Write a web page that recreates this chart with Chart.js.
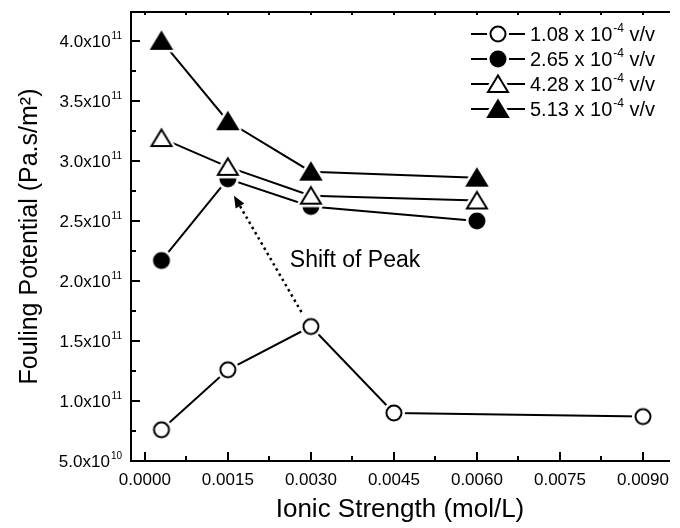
<!DOCTYPE html>
<html>
<head>
<meta charset="utf-8">
<script src="https://cdn.jsdelivr.net/npm/chart.js@4.4.1/dist/chart.umd.min.js"></script>
<style>
  html, body { margin: 0; padding: 0; background: #fff; }
  #wrap { width: 680px; height: 528px; }
</style>
</head>
<body>
<div id="wrap"><canvas id="chart" width="680" height="528"></canvas></div>
<script>
// ionic strength (mol/L) and fouling potential (Pa.s/m2) per particle dose
const xLow = [0.0003, 0.0015, 0.0030, 0.0045, 0.0090];
const xHigh = [0.0003, 0.0015, 0.0030, 0.0060];
const fp108 = [7.6e10, 1.26e11, 1.62e11, 9.0e10, 8.7e10];
const fp265 = [2.17e11, 2.85e11, 2.62e11, 2.50e11];
const fp428 = [3.19e11, 2.95e11, 2.71e11, 2.67e11];
const fp513 = [4.00e11, 3.33e11, 2.91e11, 2.86e11];
const doses = ["1.08", "2.65", "4.28", "5.13"];
const xTicks = [0, 0.0015, 0.003, 0.0045, 0.006, 0.0075, 0.009];
const yTicks = [5e10, 1e11, 1.5e11, 2e11, 2.5e11, 3e11, 3.5e11, 4e11];
const arrowFrom = [0.00283, 1.74e11];
const arrowTo = [0.00161, 2.71e11];
const notePos = [0.00262, 2.17e11];

const FONT = "Arial, 'Liberation Sans', sans-serif";
const INK = "#000";

// marker sprites with a white halo so lines stop short of the symbol
function makeMarker(shape, filled) {
  const c = document.createElement("canvas");
  c.width = c.height = 32;
  const g = c.getContext("2d");
  const m = 16;
  const path = () => {
    g.beginPath();
    if (shape === "circle") g.arc(m, m, 7.5, 0, Math.PI * 2);
    else { g.moveTo(m, m - 8.5); g.lineTo(m + 10, m + 8); g.lineTo(m - 10, m + 8); g.closePath(); }
  };
  g.lineJoin = "round";
  path(); g.strokeStyle = "#fff"; g.lineWidth = 7; g.stroke();
  path(); g.fillStyle = filled ? INK : "#fff"; g.fill();
  g.lineJoin = "miter"; g.strokeStyle = INK; g.lineWidth = 2; g.stroke();
  return c;
}
const markers = [
  makeMarker("circle", false), makeMarker("circle", true),
  makeMarker("triangle", false), makeMarker("triangle", true)
];

function pts(xs, ys) { return xs.map((x, i) => ({ x, y: ys[i] })); }

function drawSup(ctx, x, y, base, sup, tail, size) {
  ctx.textAlign = "left";
  ctx.textBaseline = "alphabetic";
  ctx.font = size + "px " + FONT;
  ctx.fillText(base, x, y);
  x += ctx.measureText(base).width + 1;
  const s = Math.round(size * 0.6);
  ctx.font = s + "px " + FONT;
  ctx.fillText(sup, x, y - size * 0.45);
  x += ctx.measureText(sup).width;
  ctx.font = size + "px " + FONT;
  ctx.fillText(tail, x, y);
  return x + ctx.measureText(tail).width;
}
function supWidth(ctx, base, sup, tail, size) {
  ctx.font = size + "px " + FONT;
  let w = ctx.measureText(base).width + ctx.measureText(tail).width + 1;
  ctx.font = Math.round(size * 0.6) + "px " + FONT;
  return w + ctx.measureText(sup).width;
}

// axis frame with inward major/minor ticks (left, bottom, top)
const frame = {
  id: "frame",
  afterDatasetsDraw(chart) {
    const { ctx, chartArea: a, scales: { x, y } } = chart;
    ctx.save();
    ctx.strokeStyle = INK;
    ctx.lineWidth = 2;
    ctx.lineCap = "square";
    ctx.beginPath();
    ctx.moveTo(a.right, a.top); ctx.lineTo(a.left, a.top);
    ctx.lineTo(a.left, a.bottom); ctx.lineTo(a.right, a.bottom);
    ctx.stroke();
    ctx.lineCap = "butt";
    ctx.beginPath();
    xTicks.forEach(v => {
      const px = Math.round(x.getPixelForValue(v));
      ctx.moveTo(px, a.bottom); ctx.lineTo(px, a.bottom - 9);
      ctx.moveTo(px, a.top); ctx.lineTo(px, a.top + 3);
      const mid = Math.round(x.getPixelForValue(v + 0.00075));
      if (mid < a.right) {
        ctx.moveTo(mid, a.bottom); ctx.lineTo(mid, a.bottom - 5);
        ctx.moveTo(mid, a.top); ctx.lineTo(mid, a.top + 3);
      }
    });
    yTicks.forEach(v => {
      const py = Math.round(y.getPixelForValue(v));
      ctx.moveTo(a.left, py); ctx.lineTo(a.left + 9, py);
      const mid = Math.round(y.getPixelForValue(v + 2.5e10));
      if (mid > a.top) { ctx.moveTo(a.left, mid); ctx.lineTo(a.left + 5, mid); }
    });
    ctx.stroke();

    // dotted arrow marking the shift of the peak
    const x0 = x.getPixelForValue(arrowFrom[0]), y0 = y.getPixelForValue(arrowFrom[1]);
    const x1 = x.getPixelForValue(arrowTo[0]), y1 = y.getPixelForValue(arrowTo[1]);
    const ang = Math.atan2(y1 - y0, x1 - x0);
    const head = 12;
    ctx.setLineDash([2.5, 3.5]);
    ctx.lineWidth = 2.5;
    ctx.beginPath();
    ctx.moveTo(x0, y0);
    ctx.lineTo(x1 - Math.cos(ang) * head, y1 - Math.sin(ang) * head);
    ctx.stroke();
    ctx.setLineDash([]);
    ctx.fillStyle = INK;
    ctx.beginPath();
    ctx.moveTo(x1, y1);
    ctx.lineTo(x1 - Math.cos(ang) * head + Math.sin(ang) * 5, y1 - Math.sin(ang) * head - Math.cos(ang) * 5);
    ctx.lineTo(x1 - Math.cos(ang) * head - Math.sin(ang) * 5, y1 - Math.sin(ang) * head + Math.cos(ang) * 5);
    ctx.closePath();
    ctx.fill();

    ctx.font = "23px " + FONT;
    ctx.textAlign = "left";
    ctx.textBaseline = "middle";
    ctx.fillText("Shift of Peak", x.getPixelForValue(notePos[0]), y.getPixelForValue(notePos[1]));
    ctx.restore();
  },
  afterDraw(chart) {
    const { ctx, chartArea: a, scales: { y } } = chart;
    ctx.save();
    ctx.fillStyle = INK;
    // y tick labels written as m.m x 10^e
    yTicks.forEach(v => {
      const e = Math.floor(Math.log10(v) + 1e-9);
      const base = (v / Math.pow(10, e)).toFixed(1) + "x10";
      const w = supWidth(ctx, base, String(e), "", 17);
      drawSup(ctx, a.left - 9 - w, y.getPixelForValue(v) + 6, base, String(e), "", 17);
    });

    // legend
    const rows = [34, 59, 84, 109];
    rows.forEach((ry, i) => {
      ctx.strokeStyle = INK;
      ctx.lineWidth = 2;
      ctx.beginPath();
      ctx.moveTo(471, ry); ctx.lineTo(525, ry);
      ctx.stroke();
      ctx.drawImage(markers[i], 498 - 16, ry - 16);
      drawSup(ctx, 530, ry + 7, doses[i] + " x 10", "-4", " v/v", 20);
    });
    ctx.restore();
  }
};

new Chart(document.getElementById("chart"), {
  type: "line",
  data: {
    datasets: [
      { label: doses[0], data: pts(xLow, fp108), pointStyle: markers[0], order: 0 },
      { label: doses[1], data: pts(xHigh, fp265), pointStyle: markers[1], order: 3 },
      { label: doses[2], data: pts(xHigh, fp428), pointStyle: markers[2], order: 2 },
      { label: doses[3], data: pts(xHigh, fp513), pointStyle: markers[3], order: 1 }
    ].map(d => Object.assign({
      borderColor: INK, borderWidth: 2, backgroundColor: INK,
      pointRadius: 9, pointHoverRadius: 9, tension: 0, fill: false
    }, d))
  },
  options: {
    responsive: false,
    devicePixelRatio: 1,
    animation: false,
    events: [],
    layout: { padding: { top: 12, right: 0, left: 0, bottom: 0 } },
    plugins: { legend: { display: false }, tooltip: { enabled: false } },
    scales: {
      x: {
        type: "linear",
        min: -0.00025,
        max: 0.00947,
        afterBuildTicks: s => { s.ticks = xTicks.map(v => ({ value: v })); },
        afterFit: s => { s.height = 67; },
        grid: { display: false, drawTicks: false },
        border: { display: false },
        ticks: {
          padding: 9, color: INK, maxRotation: 0, autoSkip: false,
          font: { family: FONT, size: 17 },
          callback: v => v.toFixed(4)
        },
        title: {
          display: true, text: "Ionic Strength (mol/L)", color: INK,
          font: { family: FONT, size: 26 }, padding: { top: 0, bottom: 3 }
        }
      },
      y: {
        type: "linear",
        min: 5e10,
        max: 4.24e11,
        afterFit: s => { s.width = 131; },
        grid: { display: false, drawTicks: false },
        border: { display: false },
        ticks: { display: false },
        title: {
          display: true, text: "Fouling Potential (Pa.s/m²)", color: INK,
          font: { family: FONT, size: 25 }, padding: { top: 15, bottom: 0 }
        }
      }
    }
  },
  plugins: [frame]
});
</script>
</body>
</html>
